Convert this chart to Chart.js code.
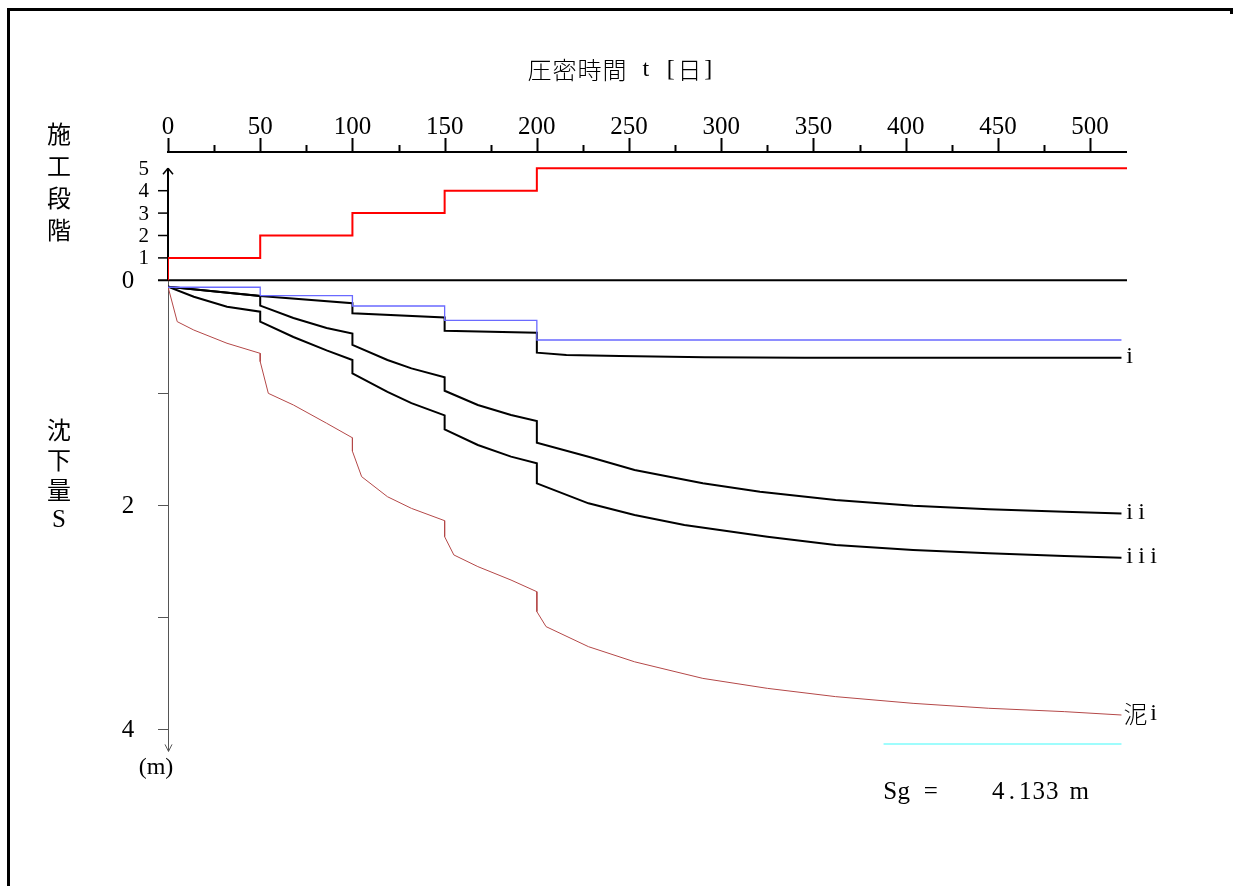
<!DOCTYPE html>
<html>
<head>
<meta charset="utf-8">
<script src="https://cdn.jsdelivr.net/npm/chart.js@4"></script>
<style>
html,body{margin:0;padding:0;background:#fff;}
#wrap{position:relative;width:1236px;height:886px;}
</style>
</head>
<body>
<div id="wrap"><canvas id="c"></canvas></div>
<script>
// ---------------- DATA ----------------
const TIME_TICKS = [0, 50, 100, 150, 200, 250, 300, 350, 400, 450, 500];
const TIME_MINOR = [25, 75, 125, 175, 225, 275, 325, 375, 425, 475];
const STAGE_TICKS = [1, 2, 3, 4, 5];
const SETTLE_TICKS = [1, 2, 3, 4];
const SETTLE_LABELS = [2, 4];

const stageDays = [0, 0, 50, 100, 150, 200, 520];
const stageValues = [0, 1, 2, 3, 4, 5, 5];

const blueDays = [0, 50, 100, 150, 200, 517];
const blueSettle = [0.056, 0.131, 0.223, 0.351, 0.527, 0.527];

const iDays = [0, 50, 100, 100, 150, 150, 200, 200, 216, 245, 291, 345, 517];
const iSettle = [0.051, 0.134, 0.199, 0.289, 0.325, 0.444, 0.462, 0.640, 0.660, 0.670, 0.680, 0.685, 0.685];

const iiDays = [0, 50, 50, 68, 86, 100, 100, 119, 132, 150, 150, 168, 186, 200, 200, 228, 253, 290, 321, 362, 404, 445, 486, 517];
const iiSettle = [0.051, 0.134, 0.22, 0.33, 0.42, 0.47, 0.571, 0.705, 0.78, 0.86, 0.98, 1.107, 1.196, 1.25, 1.444, 1.569, 1.688, 1.806, 1.881, 1.955, 2.006, 2.039, 2.06, 2.075];

const iiiDays = [0, 14, 32, 50, 50, 68, 86, 100, 100, 119, 132, 150, 150, 168, 186, 200, 200, 228, 253, 280, 325, 362, 404, 445, 486, 517];
const iiiSettle = [0.051, 0.14, 0.229, 0.274, 0.363, 0.50, 0.62, 0.705, 0.824, 0.99, 1.09, 1.2, 1.324, 1.464, 1.568, 1.628, 1.807, 1.985, 2.089, 2.179, 2.283, 2.357, 2.402, 2.431, 2.455, 2.47];

const mudDays = [0, 5, 14, 32, 50, 50, 54.4, 68, 86, 100, 100, 105, 119, 132, 150, 150, 155, 168, 186, 200, 200, 205, 228, 253, 290, 325, 362, 404, 445, 486, 517];
const mudSettle = [0.051, 0.363, 0.438, 0.556, 0.646, 0.72, 1.003, 1.107, 1.27, 1.40, 1.52, 1.747, 1.926, 2.03, 2.14, 2.283, 2.446, 2.55, 2.67, 2.774, 2.952, 3.086, 3.265, 3.40, 3.548, 3.637, 3.711, 3.771, 3.815, 3.845, 3.875];

const sgDays = [388, 517];
const SG = 4.133;

const TITLE = '圧密時間 t [日]';
const STAGE_TITLE = ['施', '工', '段', '階'];
const SETTLE_TITLE = ['沈', '下', '量', 'S'];
const UNIT_LABEL = '(m)';
const CURVE_LABELS = ['i', 'ii', 'iii', '泥i'];
const SG_LABEL = 'Sg =    ' + SG.toFixed(3) + ' m';

// ---------------- LAYOUT ----------------
const AREA = {left: 168, right: 1127, top: 152, bottom: 752};
const X_MAX = 520;
const STAGE_ZERO_Y = 280.3, STAGE_PX = 22.4;
const SETTLE_ZERO_Y = 281, SETTLE_PX = 112;

const SERIF = '"Liberation Serif","DejaVu Serif",serif';
const CJK = '"Noto Sans CJK JP","Noto Sans CJK SC",sans-serif';

const pts = (xs, ys) => xs.map((x, i) => ({x: x, y: ys[i]}));

function drawMono(ctx, str, x, y, half, size) {
  let cx = x;
  for (const ch of str) {
    const wide = ch.charCodeAt(0) > 0x2000;
    const w = wide ? 2 * half : half;
    if (ch !== ' ') {
      ctx.font = wide ? `300 ${size}px ${CJK}` : `${size}px ${SERIF}`;
      ctx.fillText(ch, cx + w / 2, y);
    }
    cx += w;
  }
}
function seg(ctx, x1, y1, x2, y2) {
  ctx.beginPath(); ctx.moveTo(x1, y1); ctx.lineTo(x2, y2); ctx.stroke();
}

const decor = {
  id: 'decor',
  beforeDatasetsDraw(chart) {
    const ctx = chart.ctx;
    const X = chart.scales.x, YS = chart.scales.yStage, YM = chart.scales.ySettle;
    ctx.save();
    // frame
    ctx.fillStyle = '#000';
    ctx.fillRect(7, 8, 3, 878);
    ctx.fillRect(7, 8, 1226, 3);
    ctx.fillRect(1230, 8, 3, 6);

    const x0 = X.getPixelForValue(0), xe = X.getPixelForValue(X_MAX);
    // top time axis
    ctx.strokeStyle = '#000';
    ctx.lineWidth = 2;
    seg(ctx, x0 - 1, AREA.top, xe, AREA.top);
    TIME_TICKS.forEach(t => { const px = Math.round(X.getPixelForValue(t)) + 0.5; seg(ctx, px, AREA.top, px, AREA.top - 14); });
    TIME_MINOR.forEach(t => { const px = Math.round(X.getPixelForValue(t)) + 0.5; seg(ctx, px, AREA.top, px, AREA.top - 7); });
    ctx.fillStyle = '#000';
    ctx.textAlign = 'center'; ctx.textBaseline = 'middle';
    ctx.font = `25px ${SERIF}`;
    TIME_TICKS.forEach(t => ctx.fillText(String(t), X.getPixelForValue(t), 127));

    // stage axis
    const ys0 = YS.getPixelForValue(0), ys5 = YS.getPixelForValue(5);
    ctx.lineWidth = 2;
    seg(ctx, x0, ys0, x0, ys5);
    ctx.lineWidth = 1.5;
    seg(ctx, x0 - 5, ys5 + 6, x0, ys5); seg(ctx, x0 + 5, ys5 + 6, x0, ys5);
    STAGE_TICKS.forEach(v => { if (v < 5) { const py = YS.getPixelForValue(v); seg(ctx, x0 - 10, py, x0, py); } });
    ctx.textAlign = 'right';
    ctx.font = `21px ${SERIF}`;
    STAGE_TICKS.forEach(v => ctx.fillText(String(v), 149, YS.getPixelForValue(v) + 1));
    // zero line
    ctx.lineWidth = 2;
    seg(ctx, x0 - 10, ys0, xe, ys0);

    // settlement axis (gray)
    const ym0 = YM.getPixelForValue(0), ymEnd = YM.getPixelForValue(4.2);
    ctx.strokeStyle = '#555';
    ctx.lineWidth = 1;
    seg(ctx, x0 + 0.5, ym0, x0 + 0.5, ymEnd);
    seg(ctx, x0 - 3, ymEnd - 7, x0 + 0.5, ymEnd); seg(ctx, x0 + 4, ymEnd - 7, x0 + 0.5, ymEnd);
    SETTLE_TICKS.forEach(v => { const py = Math.round(YM.getPixelForValue(v)) + 0.5; seg(ctx, x0 - 10, py, x0, py); });
    ctx.fillStyle = '#000';
    ctx.textAlign = 'center';
    ctx.font = `25px ${SERIF}`;
    ctx.fillText('0', 128, ym0);
    SETTLE_LABELS.forEach(v => ctx.fillText(String(v), 128, YM.getPixelForValue(v) + 1));
    ctx.font = `24px ${SERIF}`;
    ctx.fillText(UNIT_LABEL, 156, 768);
    ctx.restore();
  },
  afterDraw(chart) {
    const ctx = chart.ctx;
    const X = chart.scales.x, YM = chart.scales.ySettle;
    ctx.save();
    ctx.fillStyle = '#000';
    ctx.textAlign = 'center'; ctx.textBaseline = 'middle';
    // title
    drawMono(ctx, TITLE, 527, 70, 12.5, 24);
    // vertical titles
    ctx.font = `400 24px ${CJK}`;
    const sy = [134, 166, 198, 230];
    STAGE_TITLE.forEach((ch, i) => ctx.fillText(ch, 59, sy[i]));
    const my = [430, 460, 490, 520];
    SETTLE_TITLE.forEach((ch, i) => {
      ctx.font = ch === 'S' ? `25px ${SERIF}` : `400 24px ${CJK}`;
      ctx.fillText(ch, 59, my[i]);
    });
    // curve labels
    const ends = [iSettle, iiSettle, iiiSettle, mudSettle];
    const lx = X.getPixelForValue(517) + 2;
    CURVE_LABELS.forEach((lab, i) => {
      const arr = ends[i];
      drawMono(ctx, lab, lx, YM.getPixelForValue(arr[arr.length - 1]) - 1, 12, 24);
    });
    // Sg label
    drawMono(ctx, SG_LABEL, X.getPixelForValue(sgDays[0]), 792, 13.5, 25);
    ctx.restore();
  }
};

const common = {pointRadius: 0, tension: 0, fill: false, borderJoinStyle: 'miter'};

new Chart(document.getElementById('c'), {
  type: 'line',
  data: {
    datasets: [
      Object.assign({label: 'stage', data: pts(stageDays, stageValues), yAxisID: 'yStage', borderColor: '#ff0000', borderWidth: 2, stepped: 'before'}, common),
      Object.assign({label: 'blue', data: pts(blueDays, blueSettle), yAxisID: 'ySettle', borderColor: '#6a6aff', borderWidth: 1.3, stepped: 'before'}, common),
      Object.assign({label: 'i', data: pts(iDays, iSettle), yAxisID: 'ySettle', borderColor: '#000', borderWidth: 2}, common),
      Object.assign({label: 'ii', data: pts(iiDays, iiSettle), yAxisID: 'ySettle', borderColor: '#000', borderWidth: 2}, common),
      Object.assign({label: 'iii', data: pts(iiiDays, iiiSettle), yAxisID: 'ySettle', borderColor: '#000', borderWidth: 2}, common),
      Object.assign({label: 'mud', data: pts(mudDays, mudSettle), yAxisID: 'ySettle', borderColor: '#b44848', borderWidth: 1}, common),
      Object.assign({label: 'Sg', data: pts(sgDays, [SG, SG]), yAxisID: 'ySettle', borderColor: '#7ffcfc', borderWidth: 1.5}, common)
    ]
  },
  options: {
    responsive: true,
    maintainAspectRatio: false,
    animation: false,
    events: [],
    layout: {padding: {left: AREA.left, right: 1236 - AREA.right, top: AREA.top, bottom: 886 - AREA.bottom}},
    plugins: {legend: {display: false}, tooltip: {enabled: false}},
    scales: {
      x: {type: 'linear', min: 0, max: X_MAX, display: false},
      yStage: {type: 'linear', display: false,
        max: (STAGE_ZERO_Y - AREA.top) / STAGE_PX, min: -(AREA.bottom - STAGE_ZERO_Y) / STAGE_PX},
      ySettle: {type: 'linear', display: false, reverse: true,
        min: -(SETTLE_ZERO_Y - AREA.top) / SETTLE_PX, max: (AREA.bottom - SETTLE_ZERO_Y) / SETTLE_PX}
    }
  },
  plugins: [decor]
});
</script>
</body>
</html>
